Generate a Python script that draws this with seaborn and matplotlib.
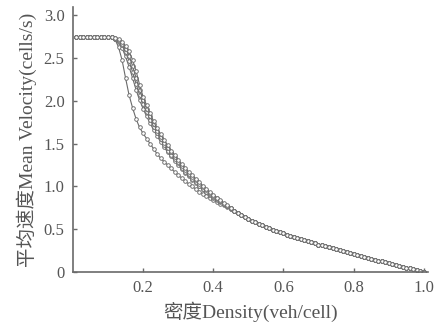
import numpy as np
import matplotlib
matplotlib.use("Agg")
import matplotlib.pyplot as plt
import pandas as pd
import seaborn as sns

# density grid (veh/cell), one sample every 0.01
density = np.round(np.arange(1, 101) / 100, 2)

# free-flow plateau, density 0.01-0.10
plateau_v = [2.75, 2.75, 2.75, 2.75, 2.75, 2.75, 2.75, 2.75, 2.75, 2.75]

# transition region, density 0.11-0.45, one list per curve
head_a = [2.745, 2.72, 2.63, 2.48, 2.27, 2.07, 1.92, 1.79, 1.69, 1.62,
          1.56, 1.50, 1.44, 1.38, 1.33, 1.29, 1.25, 1.21, 1.17, 1.13,
          1.10, 1.06, 1.03, 1.00, 0.97, 0.94, 0.915, 0.89, 0.865, 0.845,
          0.82, 0.80, 0.78, 0.76, 0.74]
head_b = [2.75, 2.73, 2.69, 2.62, 2.52, 2.40, 2.27, 2.13, 2.01, 1.91,
          1.82, 1.74, 1.66, 1.59, 1.52, 1.46, 1.40, 1.35, 1.30, 1.25,
          1.20, 1.16, 1.12, 1.08, 1.04, 1.00, 0.965, 0.93, 0.90, 0.87,
          0.845, 0.82, 0.795, 0.77, 0.74]
head_c = [2.75, 2.73, 2.70, 2.65, 2.57, 2.47, 2.34, 2.20, 2.07, 1.96,
          1.87, 1.78, 1.70, 1.62, 1.55, 1.48, 1.42, 1.37, 1.32, 1.27,
          1.22, 1.17, 1.13, 1.09, 1.05, 1.01, 0.975, 0.94, 0.91, 0.88,
          0.85, 0.825, 0.80, 0.77, 0.745]
head_d = [2.75, 2.735, 2.71, 2.67, 2.61, 2.53, 2.41, 2.27, 2.13, 2.01,
          1.91, 1.82, 1.73, 1.65, 1.58, 1.51, 1.45, 1.40, 1.34, 1.29,
          1.24, 1.19, 1.15, 1.11, 1.07, 1.03, 0.99, 0.955, 0.92, 0.89,
          0.86, 0.83, 0.80, 0.775, 0.745]
head_e = [2.75, 2.74, 2.72, 2.69, 2.64, 2.58, 2.48, 2.35, 2.19, 2.05,
          1.95, 1.86, 1.76, 1.68, 1.61, 1.54, 1.48, 1.42, 1.37, 1.31,
          1.26, 1.21, 1.17, 1.13, 1.09, 1.05, 1.01, 0.97, 0.93, 0.90,
          0.87, 0.84, 0.81, 0.78, 0.745]

# jammed branch shared by all curves, density 0.46-1.00
tail_v = [0.715, 0.69, 0.665, 0.64, 0.62, 0.60, 0.58, 0.56, 0.545, 0.53,
          0.51, 0.495, 0.48, 0.465, 0.45, 0.437, 0.424, 0.411, 0.398, 0.385,
          0.372, 0.359, 0.346, 0.333, 0.32, 0.309, 0.298, 0.287, 0.276, 0.265,
          0.254, 0.243, 0.232, 0.221, 0.21, 0.199, 0.188, 0.177, 0.166, 0.155,
          0.144, 0.133, 0.122, 0.111, 0.10, 0.09, 0.08, 0.07, 0.06, 0.05,
          0.04, 0.03, 0.02, 0.01, 0.0]

heads = {"a": head_a, "b": head_b, "c": head_c, "d": head_d, "e": head_e}


def main():
    frames = []
    for name, head in heads.items():
        frames.append(pd.DataFrame({
            "density": density,
            "velocity": plateau_v + head + tail_v,
            "run": name,
        }))
    df = pd.concat(frames, ignore_index=True)

    sns.set_style("ticks")
    plt.rcParams["font.family"] = ["Liberation Serif", "Noto Sans CJK SC"]
    grey = "#6a6a6a"
    text_grey = "#555555"

    fig = plt.figure(figsize=(4.34, 3.28), dpi=100)
    ax = fig.add_axes([0.168, 0.171, 0.818, 0.808])

    sns.lineplot(
        data=df, x="density", y="velocity", hue="run",
        palette=[grey] * 5, marker="o", markersize=2.6,
        markerfacecolor="white", markeredgecolor=grey, markeredgewidth=0.65,
        linewidth=0.8, legend=False, ax=ax, estimator=None, sort=False,
    )

    ax.set_xlim(0, 1.012)
    ax.set_ylim(0, 3.1)
    ax.set_xticks([0.2, 0.4, 0.6, 0.8, 1.0])
    ax.set_xticklabels(["0.2", "0.4", "0.6", "0.8", "1.0"])
    ax.set_yticks([0, 0.5, 1.0, 1.5, 2.0, 2.5, 3.0])
    ax.set_yticklabels(["0", "0.5", "1.0", "1.5", "2.0", "2.5", "3.0"])
    ax.tick_params(direction="in", length=3, width=1, colors=grey,
                   labelcolor=text_grey, labelsize=12, pad=6)
    sns.despine(ax=ax)
    for side in ("left", "bottom"):
        ax.spines[side].set_color(grey)
        ax.spines[side].set_linewidth(1.2)

    ax.set_xlabel("密度Density(veh/cell)", fontsize=14, color=text_grey, labelpad=4)
    ax.set_ylabel("平均速度Mean Velocity(cells/s)", fontsize=14, color=text_grey, labelpad=5)

    fig.savefig("out.png", dpi=100)


if __name__ == "__main__":
    main()
